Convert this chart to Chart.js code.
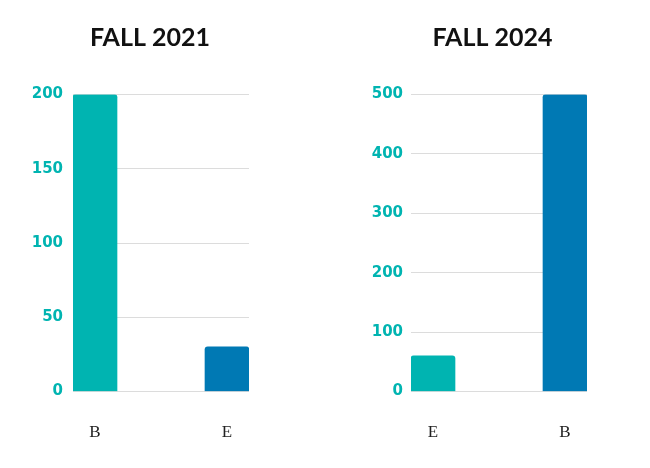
<!DOCTYPE html>
<html>
<head>
<meta charset="utf-8">
<script src="https://cdn.jsdelivr.net/npm/chart.js@4/dist/chart.umd.min.js"></script>
<style>
  body { margin: 0; background: #fff; }
  #wrap { position: relative; width: 650px; height: 468px; }
  canvas { position: absolute; top: 0; }
</style>
</head>
<body>
<div id="wrap">
  <canvas id="c2021" width="300" height="468" style="left:0px"></canvas>
  <canvas id="c2024" width="295" height="468" style="left:345px"></canvas>
</div>
<script>
// data
const cats2021 = ['B', 'E'];
const vals2021 = [200, 30];
const cats2024 = ['E', 'B'];
const vals2024 = [60, 500];

const teal = '#00b4b1';
const blue = '#0079b4';
const barColors = [teal, blue];

function makeChart(id, title, cats, vals, yMax, yStep, leftW, rightW, tickPad) {
  return new Chart(document.getElementById(id), {
    type: 'bar',
    data: {
      datasets: [{
        data: vals.map((v, i) => ({ x: i, y: v })),
        backgroundColor: barColors,
        borderRadius: 3,
        barThickness: 44
      }]
    },
    options: {
      responsive: false,
      animation: false,
      devicePixelRatio: 1,
      plugins: {
        legend: { display: false },
        tooltip: { enabled: false },
        title: {
          display: true,
          text: title,
          color: '#111',
          font: { family: 'Lato', size: 25, weight: 'bold' },
          padding: { top: 23, bottom: 41.5 }
        }
      },
      scales: {
        x: {
          type: 'linear',
          offset: false,
          min: -1 / 6,
          max: 7 / 6,
          grid: { display: false, drawTicks: false },
          border: { display: false },
          afterBuildTicks: s => { s.ticks = cats.map((c, i) => ({ value: i })); },
          afterFit: s => { s.height = 76.5; },
          ticks: {
            padding: 31,
            color: '#222',
            font: { family: 'Liberation Serif', size: 17 },
            callback: v => cats[v]
          }
        },
        y: {
          min: 0,
          max: yMax,
          grid: { color: '#dcdcdc', drawTicks: false },
          border: { display: false },
          afterFit: s => { s.width = leftW; },
          ticks: {
            stepSize: yStep,
            padding: tickPad,
            color: teal,
            font: { family: 'DejaVu Sans', size: 15, weight: 'bold' }
          }
        },
        yr: {
          position: 'right',
          grid: { display: false },
          border: { display: false },
          ticks: { display: false },
          afterFit: s => { s.width = rightW; }
        }
      }
    }
  });
}

makeChart('c2021', 'FALL 2021', cats2021, vals2021, 200, 50, 73, 51, 10);
makeChart('c2024', 'FALL 2024', cats2024, vals2024, 500, 100, 66, 53, 8);
</script>
</body>
</html>
